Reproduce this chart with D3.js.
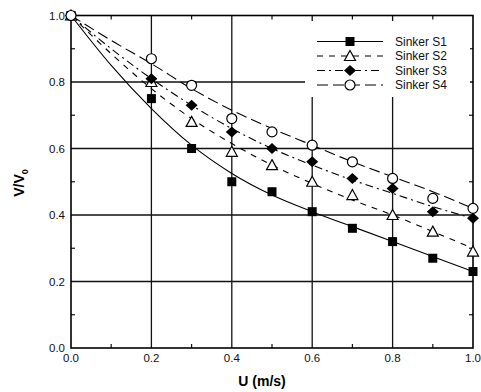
<!DOCTYPE html>
<html>
<head>
<meta charset="utf-8">
<script src="https://cdn.jsdelivr.net/npm/d3@7"></script>
<style>
  body { margin: 0; background: #fff; }
  svg { display: block; }
</style>
</head>
<body>
<svg id="chart" width="481" height="392"></svg>
<script>
// measured points
const uValues = [0, 0.2, 0.3, 0.4, 0.5, 0.6, 0.7, 0.8, 0.9, 1.0];
const s1Values = [1.0, 0.75, 0.60, 0.50, 0.47, 0.41, 0.36, 0.32, 0.27, 0.23];
const s2Values = [1.0, 0.80, 0.68, 0.59, 0.55, 0.50, 0.46, 0.40, 0.35, 0.29];
const s3Values = [1.0, 0.81, 0.73, 0.65, 0.60, 0.56, 0.51, 0.48, 0.41, 0.39];
const s4Values = [1.0, 0.87, 0.79, 0.69, 0.65, 0.61, 0.56, 0.51, 0.45, 0.42];

// fitted curves
const fitU = [0, 0.1, 0.2, 0.3, 0.4, 0.5, 0.6, 0.7, 0.8, 0.9, 1.0];
const fitS1 = [1.0, 0.85, 0.72, 0.61, 0.525, 0.46, 0.41, 0.365, 0.32, 0.275, 0.23];
const fitS2 = [1.0, 0.885, 0.78, 0.69, 0.615, 0.55, 0.495, 0.445, 0.40, 0.35, 0.30];
const fitS3 = [1.0, 0.90, 0.81, 0.73, 0.66, 0.60, 0.55, 0.505, 0.465, 0.425, 0.39];
const fitS4 = [1.0, 0.925, 0.855, 0.78, 0.715, 0.66, 0.61, 0.56, 0.515, 0.47, 0.42];

const seriesNames = ["Sinker S1", "Sinker S2", "Sinker S3", "Sinker S4"];
const tickValues = [0, 0.2, 0.4, 0.6, 0.8, 1.0];
const minorTicks = [0.1, 0.3, 0.5, 0.7, 0.9];

const series = [
  { name: seriesNames[0], pts: s1Values, fit: fitS1, dash: null, marker: "square" },
  { name: seriesNames[1], pts: s2Values, fit: fitS2, dash: "6,6", marker: "triangle" },
  { name: seriesNames[2], pts: s3Values, fit: fitS3, dash: "8,4,2,4", marker: "diamond" },
  { name: seriesNames[3], pts: s4Values, fit: fitS4, dash: "11,5", marker: "circle" }
];

const svg = d3.select("#chart");
const x = d3.scaleLinear().domain([0, 1]).range([71, 473]);
const y = d3.scaleLinear().domain([0, 1]).range([348, 15.5]);
const font = "'Liberation Sans', Arial, sans-serif";

// grid
svg.append("g").selectAll("line.gx")
  .data([0.2, 0.4, 0.6, 0.8]).enter().append("line")
  .attr("x1", d => x(d)).attr("x2", d => x(d))
  .attr("y1", y(1)).attr("y2", y(0))
  .attr("stroke", "#111").attr("stroke-width", 1.3);
svg.append("g").selectAll("line.gy")
  .data([0.2, 0.4, 0.6, 0.8]).enter().append("line")
  .attr("x1", x(0)).attr("x2", x(1))
  .attr("y1", d => y(d)).attr("y2", d => y(d))
  .attr("stroke", "#111").attr("stroke-width", 1.3);

// minor ticks, inward
const ticks = svg.append("g").attr("stroke", "#111").attr("stroke-width", 1.2);
minorTicks.forEach(v => {
  ticks.append("line").attr("x1", x(0)).attr("x2", x(0) + 4).attr("y1", y(v)).attr("y2", y(v));
  ticks.append("line").attr("x1", x(1)).attr("x2", x(1) - 4).attr("y1", y(v)).attr("y2", y(v));
  ticks.append("line").attr("x1", x(v)).attr("x2", x(v)).attr("y1", y(0)).attr("y2", y(0) - 4);
  ticks.append("line").attr("x1", x(v)).attr("x2", x(v)).attr("y1", y(1)).attr("y2", y(1) + 4);
});

// frame
svg.append("rect")
  .attr("x", x(0)).attr("y", y(1))
  .attr("width", x(1) - x(0)).attr("height", y(0) - y(1))
  .attr("fill", "none").attr("stroke", "#000").attr("stroke-width", 1.6);

// tick labels
svg.append("g").selectAll("text")
  .data(tickValues).enter().append("text")
  .attr("x", 65).attr("y", d => y(d) + 4)
  .attr("text-anchor", "end")
  .attr("font-family", font).attr("font-size", 11.5).attr("fill", "#111")
  .text(d => d.toFixed(1));
svg.append("g").selectAll("text")
  .data(tickValues).enter().append("text")
  .attr("x", d => x(d)).attr("y", 362)
  .attr("text-anchor", "middle")
  .attr("font-family", font).attr("font-size", 11.5).attr("fill", "#111")
  .text(d => d.toFixed(1));

// axis titles
svg.append("text")
  .attr("x", 262).attr("y", 386)
  .attr("text-anchor", "middle")
  .attr("font-family", font).attr("font-size", 14).attr("font-weight", "bold")
  .text("U (m/s)");
const yt = svg.append("text")
  .attr("transform", "translate(24,183) rotate(-90)")
  .attr("text-anchor", "middle")
  .attr("font-family", font).attr("font-size", 14).attr("font-weight", "bold");
yt.append("tspan").text("V/V");
yt.append("tspan").attr("font-size", 9).attr("dy", 4).text("0");

// markers
function drawMarker(g, type, cx, cy) {
  if (type === "square") {
    g.append("rect").attr("x", cx - 4.5).attr("y", cy - 4.5)
      .attr("width", 9).attr("height", 9).attr("fill", "#000");
  } else if (type === "triangle") {
    g.append("path")
      .attr("d", `M${cx},${cy - 5.5}L${cx + 5.5},${cy + 4.5}L${cx - 5.5},${cy + 4.5}Z`)
      .attr("fill", "#fff").attr("stroke", "#000").attr("stroke-width", 1.2);
  } else if (type === "diamond") {
    g.append("path")
      .attr("d", `M${cx},${cy - 5.5}L${cx + 6},${cy}L${cx},${cy + 5.5}L${cx - 6},${cy}Z`)
      .attr("fill", "#000");
  } else {
    g.append("circle").attr("cx", cx).attr("cy", cy).attr("r", 5)
      .attr("fill", "#fff").attr("stroke", "#000").attr("stroke-width", 1.2);
  }
}

const line = d3.line()
  .x((d, i) => x(fitU[i]))
  .y(d => y(d))
  .curve(d3.curveMonotoneX);

series.forEach(s => {
  svg.append("path")
    .attr("d", line(s.fit))
    .attr("fill", "none").attr("stroke", "#000").attr("stroke-width", 1.1)
    .attr("stroke-dasharray", s.dash);
});
series.forEach(s => {
  const g = svg.append("g");
  s.pts.forEach((v, i) => drawMarker(g, s.marker, x(uValues[i]), y(v)));
});

// legend
const lg = svg.append("g");
lg.append("rect").attr("x", 305).attr("y", 21).attr("width", 165).attr("height", 76)
  .attr("fill", "#fff");
series.forEach((s, i) => {
  const ly = 41.5 + i * 14.5;
  lg.append("line").attr("x1", 317).attr("x2", 383).attr("y1", ly).attr("y2", ly)
    .attr("stroke", "#000").attr("stroke-width", 1.1)
    .attr("stroke-dasharray", s.dash);
  drawMarker(lg, s.marker, 350, ly);
  lg.append("text").attr("x", 395).attr("y", ly + 4)
    .attr("font-family", font).attr("font-size", 12).attr("fill", "#111")
    .text(s.name);
});
</script>
</body>
</html>
